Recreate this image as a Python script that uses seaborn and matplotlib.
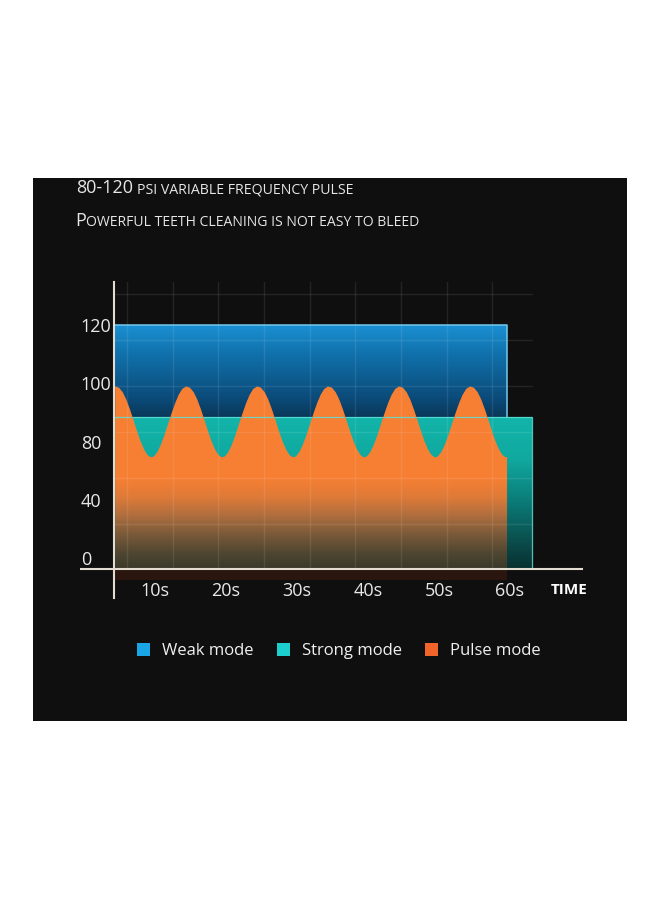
import numpy as np
import pandas as pd
import matplotlib
matplotlib.use("Agg")
import matplotlib.pyplot as plt
import seaborn as sns
from matplotlib.colors import LinearSegmentedColormap
from matplotlib.patches import Rectangle, Patch

# ---------------- data ----------------
title_big1, title_small1 = "80-120", "PSI VARIABLE FREQUENCY PULSE"
title_big2, title_small2 = "P", "OWERFUL TEETH CLEANING IS NOT EASY TO BLEED"
y_ticks = [0, 40, 80, 100, 120]
x_ticks = [10, 20, 30, 40, 50, 60]
x_labels = ["10s", "20s", "30s", "40s", "50s", "60s"]
x_title = "TIME"
modes = ["Weak mode", "Strong mode", "Pulse mode"]

weak_t = [4.4, 59.6]
weak_v = [120, 120]
strong_t = [4.4, 63.1]
strong_v = [88.4, 88.4]

pulse_t = list(np.round(np.arange(4.4, 59.45, 0.5), 2)) + [59.6]
pulse_v = [
    98.7, 98.3, 96.8, 94.3, 91.0, 87.3, 83.5, 80.0, 74.3, 70.4,
    68.7, 69.4, 72.4, 77.5, 82.0, 85.8, 89.5, 93.0, 95.9, 97.9,
    98.7, 98.3, 96.8, 94.3, 91.0, 87.3, 83.5, 80.0, 74.3, 70.4,
    68.7, 69.4, 72.4, 77.5, 82.0, 85.8, 89.5, 93.0, 95.9, 97.9,
    98.7, 98.3, 96.8, 94.3, 91.0, 87.3, 83.5, 80.0, 74.3, 70.4,
    68.7, 69.4, 72.4, 77.5, 82.0, 85.8, 89.5, 93.0, 95.9, 97.9,
    98.7, 98.3, 96.8, 94.3, 91.0, 87.3, 83.5, 80.0, 74.3, 70.4,
    68.7, 69.4, 72.4, 77.5, 82.0, 85.8, 89.5, 93.0, 95.9, 97.9,
    98.7, 98.3, 96.8, 94.3, 91.0, 87.3, 83.5, 80.0, 74.3, 70.4,
    68.7, 69.4, 72.4, 77.5, 82.0, 85.8, 89.5, 93.0, 95.9, 97.9,
    98.7, 98.3, 96.8, 94.3, 91.0, 87.3, 83.5, 80.0, 74.3, 70.4,
    68.7, 68.9,
]
baseline = -7.5      # x-axis line level
reflect_low = -15.0  # bottom of dark reflection band

# ---------------- scale (labels equally spaced) ----------------
I_ANCH = [0, 1, 2, 3, 4]


def fwd(v):
    v = np.asarray(v, dtype=float)
    out = np.interp(v, y_ticks, I_ANCH)
    out = np.where(v < 0, v / 40.0, out)
    out = np.where(v > 120, 4 + (v - 120) / 20.0, out)
    return out


def inv(i):
    i = np.asarray(i, dtype=float)
    out = np.interp(i, I_ANCH, y_ticks)
    out = np.where(i < 0, i * 40.0, out)
    out = np.where(i > 4, 120 + (i - 4) * 20.0, out)
    return out


# ---------------- style ----------------
sns.set_theme(style="dark")
plt.rcParams["font.family"] = ["Open Sans", "DejaVu Sans"]

W, H = 660, 900
fig = plt.figure(figsize=(6.6, 9), dpi=100, facecolor="white")
fig.patches.append(Rectangle((33 / W, 179 / H), 594 / W, 543 / H,
                             transform=fig.transFigure, facecolor="#0f0f0f",
                             edgecolor="none", zorder=-5))

ax = fig.add_axes([80 / W, 302 / H, 503 / W, 316 / H])
ax.set_zorder(1)
ax.patch.set_visible(False)
ax.grid(False)
ax.set_yscale("function", functions=(fwd, inv))

WEAK_C = "#1aa6e6"
STRONG_C = "#1ccfcc"
PULSE_C = "#f2642a"

blue_stops = [(0.0, "#04131f"), (0.57, "#0a3658"), (0.63, "#0b4a78"),
              (0.77, "#1070aa"), (0.86, "#1a8ed0"), (1.0, "#1a8ed0")]
teal_stops = [(0.0, "#062626"), (0.09, "#083030"), (0.14, "#0a4040"),
              (0.30, "#0b7a76"), (0.44, "#10a9a0"), (0.58, "#13b5aa"), (1.0, "#13b5aa")]
orange_stops = [(0.0, "#2a261d"), (0.09, "#3a392a"), (0.14, "#4f4631"),
                (0.20, "#7a5a39"), (0.26, "#b06e3e"), (0.32, "#e07b38"),
                (0.38, "#f67f33"), (1.0, "#f98133")]


def grad_fill(t, top, stops, z):
    poly = ax.fill_between(t, baseline, top, facecolor="none",
                           edgecolor="none", zorder=z)
    cmap = LinearSegmentedColormap.from_list("g", stops)
    g = np.linspace(0, 1, 600).reshape(-1, 1)
    im = ax.imshow(g, cmap=cmap, extent=[0, 1, 0, 1], origin="lower",
                   aspect="auto", transform=ax.transAxes, zorder=z,
                   interpolation="bilinear")
    im.set_clip_path(poly.get_paths()[0], transform=ax.transData)


grad_fill(weak_t, weak_v, blue_stops, 1)
grad_fill(strong_t, strong_v, teal_stops, 2)
grad_fill(pulse_t, pulse_v, orange_stops, 3)

# dark reflection under the axis
ax.fill_between([pulse_t[0], pulse_t[-1]], reflect_low, baseline,
                color="#2a160e", lw=0, zorder=3)

# decorative grid (axes fractions)
grid_x = [0.0934, 0.1849, 0.2744, 0.3658, 0.4573, 0.5467, 0.6382, 0.7296, 0.8191]
grid_y = [0.962, 0.816, 0.671, 0.525, 0.380, 0.234]
for gx in grid_x:
    ax.plot([gx, gx], [0.0918, 1.0], transform=ax.transAxes, color="white",
            alpha=0.09, lw=1, zorder=6)
for gy in grid_y:
    ax.plot([0.0676, 0.8986], [gy, gy], transform=ax.transAxes, color="white",
            alpha=0.09, lw=1, zorder=6)

# outlines via seaborn
weak_edge = pd.DataFrame({"t": weak_t + [weak_t[-1]],
                          "v": weak_v + [strong_v[0]]})
strong_edge = pd.DataFrame({"t": strong_t + [strong_t[-1]],
                            "v": strong_v + [baseline]})
pulse_df = pd.DataFrame({"t": pulse_t, "v": pulse_v})
sns.lineplot(data=weak_edge, x="t", y="v", ax=ax, color="#74c9ef", lw=1.1,
             estimator=None, sort=False, zorder=7)
sns.lineplot(data=strong_edge, x="t", y="v", ax=ax, color="#5fe0d6", lw=0.9,
             estimator=None, sort=False, zorder=7, alpha=0.85)
sns.lineplot(data=pulse_df, x="t", y="v", ax=ax, color="#f98133", lw=0.8,
             estimator=None, sort=False, zorder=7)

# axes lines
for s in ["top", "right", "bottom"]:
    ax.spines[s].set_visible(False)
ax.spines["left"].set_position(("data", 4.2))
ax.spines["left"].set_color("#e2ddd0")
ax.spines["left"].set_linewidth(1.5)
ax.spines["left"].set_zorder(10)
ax.axhline(baseline, color="#e2ddd0", lw=1.5, zorder=10)

ax.set_xlim(-0.56, 70.3)
ax.set_ylim(-27.5, 134.8)

ax.set_yticks(y_ticks)
ax.set_yticklabels([str(v) for v in y_ticks])
ax.set_xticks(x_ticks)
ax.set_xticklabels(x_labels)
ax.minorticks_off()
ax.tick_params(axis="y", length=0, pad=23.8, labelsize=13, labelcolor="#e8e8e8")
ax.tick_params(axis="x", length=0, pad=-11.5, labelsize=13, labelcolor="#e8e8e8")
for lab in ax.get_yticklabels():
    lab.set_horizontalalignment("left")

ax.set_ylabel("")
ax.set_xlabel(x_title, fontsize=11, fontweight="bold", color="white")
ax.xaxis.set_label_coords(0.972, 0.0253)
ax.xaxis.label.set_va("center")

# title lines with small caps
TC = "#e6e6e6"
t1 = fig.text(76 / W, 707 / H, title_big1, fontsize=13, color=TC, va="baseline")
ax.annotate(title_small1, xy=(1, 707 / H), xycoords=(t1, "figure fraction"),
            xytext=(2.8, 0), textcoords="offset points", fontsize=10.2, color=TC,
            va="baseline", ha="left", annotation_clip=False)
t2 = fig.text(75 / W, 674 / H, title_big2, fontsize=13, color=TC, va="baseline")
ax.annotate(title_small2, xy=(1, 674 / H), xycoords=(t2, "figure fraction"),
            xytext=(0.3, 0), textcoords="offset points", fontsize=10.1, color=TC,
            va="baseline", ha="left", annotation_clip=False)

# legend
handles = [Patch(facecolor=c, edgecolor="none") for c in (WEAK_C, STRONG_C, PULSE_C)]
fig.legend(handles, modes, loc="center", bbox_to_anchor=(339 / W, 249 / H),
           ncol=3, frameon=False, fontsize=12.0, labelcolor="#f0f0f0",
           handlelength=0.78, handleheight=0.78, handletextpad=0.72,
           columnspacing=1.4, borderpad=0)

fig.savefig("out.png", dpi=100, facecolor="white")
